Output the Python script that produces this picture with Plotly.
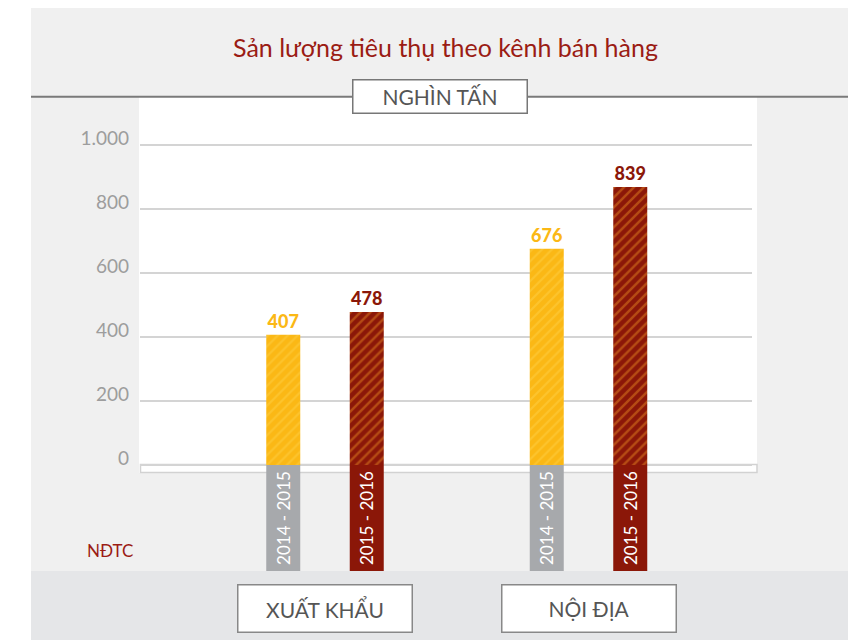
import plotly.graph_objects as go

# ---- data ----
channels = ["XUẤT KHẨU", "NỘI ĐỊA"]
series_names = ["2014 - 2015", "2015 - 2016"]
values_2014_2015 = [407, 676]
values_2015_2016 = [478, 869]          # bar heights as drawn
labels_2014_2015 = ["407", "676"]
labels_2015_2016 = ["478", "839"]      # printed labels
y_tickvals = [0, 200, 400, 600, 800, 1000]
y_ticktext = ["0", "200", "400", "600", "800", "1.000"]
title_text = "Sản lượng tiêu thụ theo kênh bán hàng"
unit_text = "NGHÌN TẤN"
source_text = "NĐTC"

W, H = 859, 640
OFF = 8  # page body margin
FONT = "Lato"
YELLOW = "#fbb815"
YELLOW_STRIPE = "#fdd045"
RED = "#8b1708"
RED_STRIPE = "#e0801f"
GREY_STRIP = "#a7a9ac"
DARKRED_TEXT = "#9b1c14"


def px(x):
    return (x - OFF) / W


def py(y):
    return 1 - (y - OFF) / H


# pixel geometry of plot (screen coords)
Y0_PX = 465.0 - OFF
PX_PER_UNIT = 0.32
y_range = [-(H - Y0_PX) / PX_PER_UNIT, Y0_PX / PX_PER_UNIT]
STRIP = -(571 - 465) / PX_PER_UNIT

dom_l, dom_r = 140, 752
cat_px = 263.5
x0_px = 325
x_range = [-(x0_px - dom_l) / cat_px, (dom_r - x0_px) / cat_px]
bw = 34 / cat_px
half_sep = 41.75 / cat_px
offA = -half_sep - bw / 2
offB = half_sep - bw / 2

fig = go.Figure()

# category strips below baseline
for name, off, col in [(series_names[0], offA, GREY_STRIP), (series_names[1], offB, RED)]:
    fig.add_trace(go.Bar(
        x=channels, y=[STRIP] * len(channels), base=0,
        width=bw, offset=off, marker=dict(color=col, line=dict(width=0)),
        text=[name] * len(channels), textposition="inside", insidetextanchor="middle",
        textangle=-90, constraintext="none",
        textfont=dict(family=FONT, size=17, color="white"),
        showlegend=False, hoverinfo="skip", cliponaxis=False,
    ))

fig.add_trace(go.Bar(
    x=channels, y=values_2014_2015, name=series_names[0],
    width=bw, offset=offA,
    marker=dict(color=YELLOW, line=dict(width=0),
                pattern=dict(shape="/", fgcolor=YELLOW_STRIPE, bgcolor=YELLOW, size=7, solidity=0.3)),
    text=labels_2014_2015, textposition="outside", constraintext="none",
    textfont=dict(family=FONT, size=18, color=YELLOW, weight=900),
    cliponaxis=False, showlegend=False,
))
fig.add_trace(go.Bar(
    x=channels, y=values_2015_2016, name=series_names[1],
    width=bw, offset=offB,
    marker=dict(color=RED, line=dict(width=0),
                pattern=dict(shape="/", fgcolor=RED_STRIPE, bgcolor=RED, size=7, solidity=0.35)),
    text=labels_2015_2016, textposition="outside", constraintext="none",
    textfont=dict(family=FONT, size=18, color=RED, weight=900),
    cliponaxis=False, showlegend=False,
))

shapes = [
    dict(type="rect", xref="paper", yref="paper", x0=px(31), x1=px(848), y0=py(571), y1=py(6),
         fillcolor="#f0f0f0", line=dict(width=0), layer="below"),
    dict(type="rect", xref="paper", yref="paper", x0=px(31), x1=px(848), y0=py(660), y1=py(571),
         fillcolor="#e5e6e8", line=dict(width=0), layer="below"),
    dict(type="rect", xref="paper", yref="paper", x0=px(139), x1=px(757), y0=py(473), y1=py(97),
         fillcolor="white", line=dict(width=0), layer="below"),
    dict(type="line", xref="paper", yref="paper", x0=px(31), x1=px(848), y0=py(96.8), y1=py(96.8),
         line=dict(color="#7a7a7a", width=2), layer="below"),
    dict(type="rect", xref="paper", yref="paper", x0=px(140.5), x1=px(757), y0=py(472.5), y1=py(464.5),
         fillcolor="white", line=dict(color="#d2d2d2", width=1.5), layer="below"),
]

annotations = [
    dict(text=title_text, xref="paper", yref="paper", x=px(445), y=py(47), showarrow=False,
         xanchor="center", yanchor="middle", font=dict(family=FONT, size=25, color=DARKRED_TEXT)),
    dict(text=unit_text, xref="paper", yref="paper", x=px(439.7), y=py(96.8), showarrow=False,
         xanchor="center", yanchor="middle", width=173, height=32, borderpad=0,
         bgcolor="white", bordercolor="#777777", borderwidth=1.5,
         font=dict(family=FONT, size=21, color="#555555")),
    dict(text=source_text, xref="paper", yref="paper", x=px(85), y=py(550.5), showarrow=False,
         xanchor="left", yanchor="middle", font=dict(family=FONT, size=17, color=DARKRED_TEXT)),
]
for i, ch in enumerate(channels):
    annotations.append(dict(
        text=ch, xref="x", yref="paper", x=i, y=py(608.5), showarrow=False,
        xanchor="center", yanchor="middle", width=173, height=46, borderpad=0,
        bgcolor="white", bordercolor="#888888", borderwidth=1.5,
        font=dict(family=FONT, size=21, color="#555555")))

fig.update_layout(
    width=W, height=H, margin=dict(l=0, r=0, t=0, b=0, pad=0),
    paper_bgcolor="white", plot_bgcolor="rgba(0,0,0,0)",
    barmode="overlay", showlegend=False,
    shapes=shapes, annotations=annotations,
    xaxis=dict(domain=[px(dom_l), px(dom_r)], range=x_range, showticklabels=False,
               showgrid=False, zeroline=False, showline=False, ticks="", fixedrange=True),
    yaxis=dict(domain=[0, 1], range=y_range, tickvals=y_tickvals, ticktext=y_ticktext,
               showgrid=True, gridcolor="#d4d4d4", gridwidth=1.5, zeroline=False,
               showline=False, ticks="", ticklabelshift=-7, ticklabelstandoff=10,
               tickfont=dict(family=FONT, size=19, color="#9d9d9d"), fixedrange=True),
)

fig.write_html("out.html")
